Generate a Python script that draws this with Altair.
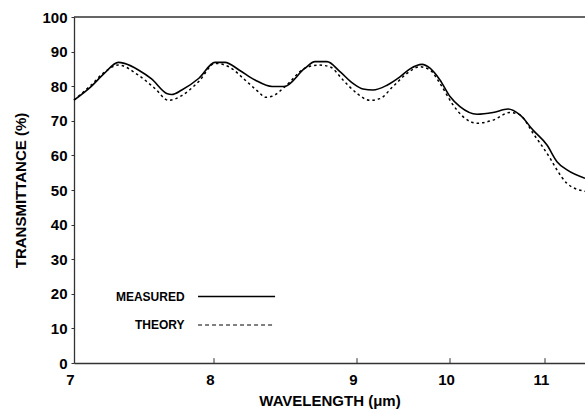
import altair as alt
import pandas as pd

# Measured curve (wavelength in µm, transmittance in %)
meas_wl = [7.000, 7.122, 7.216, 7.317, 7.360, 7.460, 7.554, 7.662, 7.698, 7.770,
           7.892, 8.007, 8.077, 8.175, 8.287, 8.406, 8.490, 8.636, 8.706, 8.790,
           8.881, 8.972, 9.065, 9.172, 9.323, 9.462, 9.570, 9.699, 9.785, 9.892,
           10.000, 10.105, 10.284, 10.453, 10.611, 10.737, 10.874, 11.021, 11.126,
           11.232, 11.421]
meas_t = [76.0, 79.9, 83.7, 86.9, 86.6, 84.7, 82.1, 77.9, 77.6, 78.9,
          82.3, 86.9, 86.9, 84.7, 81.8, 79.9, 79.9, 85.2, 87.1, 87.1,
          84.2, 80.8, 79.2, 78.9, 80.3, 82.7, 85.0, 86.3, 85.2, 81.8,
          77.0, 74.1, 71.9, 72.4, 73.4, 71.7, 67.3, 63.0, 58.2,
          55.8, 53.4]

# Theory curve
theo_wl = [7.000, 7.122, 7.216, 7.317, 7.460, 7.576, 7.676, 7.770, 7.892, 8.007,
           8.105, 8.217, 8.315, 8.357, 8.406, 8.497, 8.636, 8.734, 8.811, 8.902,
           9.000, 9.140, 9.247, 9.387, 9.538, 9.677, 9.785, 9.892, 10.032, 10.137,
           10.284, 10.453, 10.632, 10.737, 10.874, 11.053, 11.126, 11.232, 11.421]
theo_t = [76.0, 80.3, 84.0, 86.1, 83.2, 79.4, 75.9, 77.3, 81.4, 86.6,
          85.6, 81.8, 78.2, 76.8, 77.1, 79.9, 85.2, 86.1, 85.6, 81.8,
          77.9, 75.9, 76.4, 79.9, 83.7, 85.6, 84.7, 80.8, 74.6, 71.2,
          69.3, 70.2, 72.4, 71.7, 66.4, 59.2, 55.8, 51.9, 49.6]

x_ticks = [7, 8, 9, 10, 11]
inner_ticks = [8, 9, 10, 11]
y_ticks = [0, 10, 20, 30, 40, 50, 60, 70, 80, 90, 100]

legend_labels = ["MEASURED", "THEORY"]
legend_y = [19.2, 11.0]
legend_text_x = [7.79, 7.79]
legend_x1 = [7.886, 7.886]
legend_x2 = [8.427, 8.413]

FONT = "Liberation Sans"

# All layers share one long table so that every layer uses the same x / y fields
rows = []
for w, t in zip(meas_wl, meas_t):
    rows.append({"kind": "meas", "x": w, "y": t})
for w, t in zip(theo_wl, theo_t):
    rows.append({"kind": "theo", "x": w, "y": t})
for w in inner_ticks:
    rows.append({"kind": "tick", "x": w, "y": 0, "x2": w, "y2": 1.4})
for lab, yy, tx, a, b in zip(legend_labels, legend_y, legend_text_x, legend_x1, legend_x2):
    rows.append({"kind": "legtext", "x": tx, "y": yy, "label": lab})
    rows.append({"kind": "leg_" + lab, "x": a, "y": yy, "x2": b, "y2": yy})
rows.append({"kind": "top", "x": 7, "y": 100, "x2": 11.421, "y2": 100})
df = pd.DataFrame(rows)

xscale = alt.Scale(domain=[7, 8, 9, 10, 11, 11.421],
                   range=[0, 140, 283, 376, 471, 511], nice=False, zero=False)
yscale = alt.Scale(domain=[0, 100], nice=False, zero=False)

xaxis = alt.Axis(values=x_ticks, format="d", ticks=False, labelPadding=9,
                 labelOffset=-4, labelOverlap=False,
                 labelFont=FONT, labelFontSize=15, labelFontWeight="bold",
                 labelColor="black", title="WAVELENGTH (μm)", titleFont=FONT,
                 titleFontSize=15, titleFontWeight="bold", titleColor="black",
                 titlePadding=6, domainColor="#333", domainWidth=1.3, grid=False,
                 labelFlush=False)
yaxis = alt.Axis(values=y_ticks, format="d", tickSize=3, tickColor="#333",
                 labelPadding=4, labelOverlap=False,
                 labelFont=FONT, labelFontSize=15, labelFontWeight="bold",
                 labelColor="black", title="TRANSMITTANCE (%)", titleFont=FONT,
                 titleFontSize=15, titleFontWeight="bold", titleColor="black",
                 titlePadding=13, domainColor="#333", domainWidth=1.3, grid=False,
                 labelFlush=False)

X = alt.X("x:Q", scale=xscale, axis=xaxis)
Y = alt.Y("y:Q", scale=yscale, axis=yaxis)

base = alt.Chart(df)

measured = base.transform_filter(alt.datum.kind == "meas").mark_line(
    color="black", strokeWidth=1.6, interpolate="monotone").encode(x=X, y=Y)
theory = base.transform_filter(alt.datum.kind == "theo").mark_line(
    color="black", strokeWidth=1.5, strokeDash=[2.5, 3],
    interpolate="monotone").encode(x=X, y=Y)
top_line = base.transform_filter(alt.datum.kind == "top").mark_rule(
    color="#333", strokeWidth=1.3).encode(x=X, y=Y, x2="x2:Q")
tick_marks = base.transform_filter(alt.datum.kind == "tick").mark_rule(
    color="#333", strokeWidth=1).encode(x=X, y=Y, y2="y2:Q")
leg_text = base.transform_filter(alt.datum.kind == "legtext").mark_text(
    align="right", baseline="middle", font=FONT, fontSize=12,
    fontWeight="bold", color="black").encode(x=X, y=Y, text="label:N")
leg_solid = base.transform_filter(alt.datum.kind == "leg_MEASURED").mark_rule(
    color="black", strokeWidth=1.4).encode(x=X, y=Y, x2="x2:Q")
leg_dash = base.transform_filter(alt.datum.kind == "leg_THEORY").mark_rule(
    color="black", strokeWidth=1.1, strokeDash=[4, 3]).encode(x=X, y=Y, x2="x2:Q")

chart = alt.layer(measured, theory, top_line, tick_marks, leg_text, leg_solid,
                  leg_dash).properties(
    width=511, height=346,
    autosize=alt.AutoSizeParams(type="none"),
    padding={"left": 74, "top": 17, "right": 0, "bottom": 48},
    background="white",
).configure_view(strokeWidth=0)

chart.save("out.html", embed_options={"renderer": "svg", "actions": False})
